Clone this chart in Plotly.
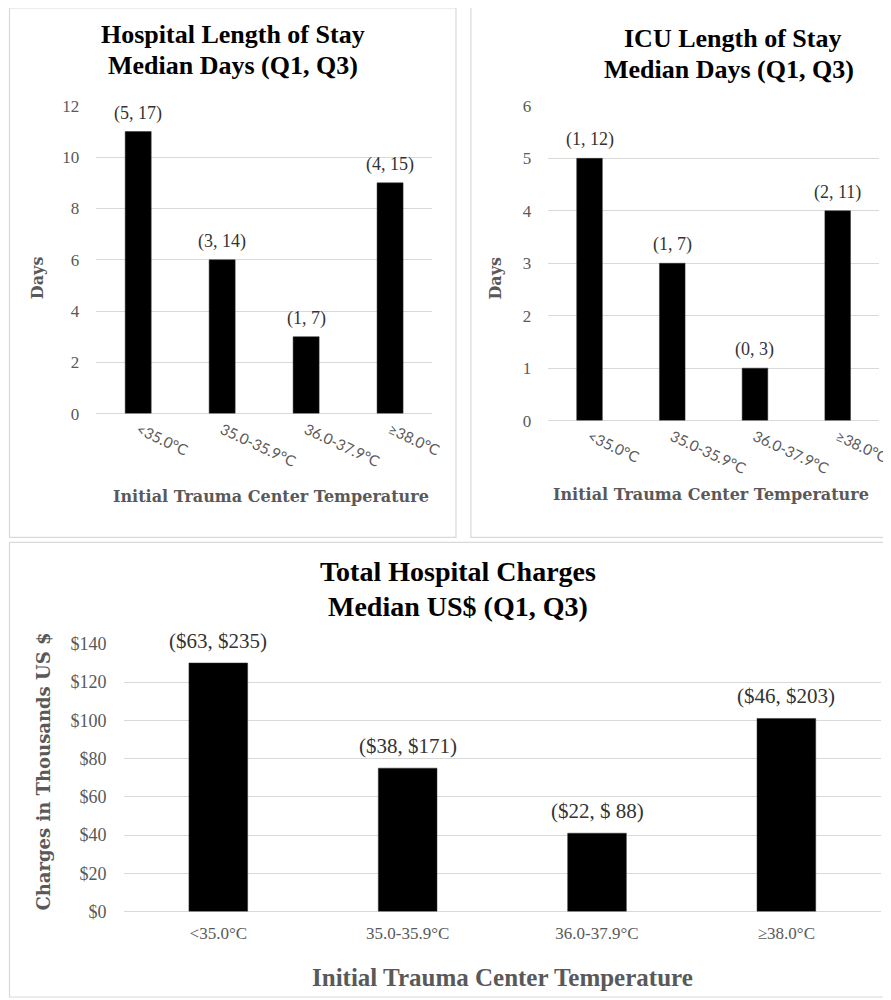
import plotly.graph_objects as go

W, H = 891, 1000

categories = ["<35.0°C", "35.0-35.9°C", "36.0-37.9°C", "≥38.0°C"]

hosp_los = [11, 6, 3, 9]
hosp_iqr = ["(5, 17)", "(3, 14)", "(1, 7)", "(4, 15)"]

icu_los = [5, 3, 1, 4]
icu_iqr = ["(1, 12)", "(1, 7)", "(0, 3)", "(2, 11)"]

charges = [130, 75, 41, 101]
charges_iqr = ["($63, $235)", "($38, $171)", "($22, $ 88)", "($46, $203)"]

SERIF = "Liberation Serif"
WIDE = "DejaVu Serif"
SANS = "Lato"
GRAY = "#595959"
LBL = "#333333"
GRID = "#d9d9d9"

# page-to-screenshot correction (body margin / scaling observed in the render)
SX, OX = 0.991, 7.5
SY, OY = 0.981, 17.0


def fx(px):
    return ((px - OX) / SX) / W


def fy(py):
    return 1 - ((py - OY) / SY) / H


fig = go.Figure()

panels = [
    dict(vals=hosp_los, lab=hosp_iqr, xa="x", ya="y", xd=(96, 433), yd=(413, 105), rng=12, dt=2),
    dict(vals=icu_los, lab=icu_iqr, xa="x2", ya="y2", xd=(549.5, 881.5), yd=(420, 105), rng=6, dt=1),
    dict(vals=charges, lab=charges_iqr, xa="x3", ya="y3", xd=(123.5, 883.5), yd=(911.5, 643.5), rng=140, dt=20),
]

for i, p in enumerate(panels):
    fig.add_trace(go.Bar(
        x=categories, y=p["vals"], xaxis=p["xa"], yaxis=p["ya"],
        marker=dict(color="black", line=dict(color="#333333", width=0.5)),
        width=0.31, showlegend=False, hoverinfo="x+y",
    ))
    for c, v, t in zip(categories, p["vals"], p["lab"]):
        fig.add_annotation(
            x=c, y=v, xref=p["xa"], yref=p["ya"], text=t, showarrow=False,
            yanchor="bottom", yshift=6 if i < 2 else 8,
            font=dict(family=SERIF, size=18 if i < 2 else 21, color=LBL),
        )

layout_axes = {}
for i, p in enumerate(panels):
    k = "" if i == 0 else str(i + 1)
    layout_axes["xaxis" + k] = dict(
        domain=[fx(p["xd"][0]), fx(p["xd"][1])], anchor="y" + k,
        showgrid=False, showline=False, ticks="", zeroline=False,
        tickangle=25 if i < 2 else 0,
        tickfont=dict(family=SANS if i < 2 else SERIF, size=15 if i < 2 else 17, color=GRAY),
        ticklabelstandoff=4 if i < 2 else 9,
    )
    layout_axes["yaxis" + k] = dict(
        domain=[fy(p["yd"][0]), fy(p["yd"][1])], anchor="x" + k,
        range=[0, p["rng"]], dtick=p["dt"], showgrid=True, gridcolor=GRID, gridwidth=1,
        zeroline=True, zerolinecolor=GRID, zerolinewidth=1, showline=False, ticks="",
        tickprefix="$" if i == 2 else "",
        tickfont=dict(family=SERIF, size=17 if i < 2 else 18, color=GRAY),
        ticklabelstandoff=16,
    )

fig.update_layout(
    width=W, height=H, margin=dict(l=0, r=0, t=0, b=0),
    paper_bgcolor="white", plot_bgcolor="white",
    **layout_axes,
)

# Panel borders
for (x0, y0, x1, y1) in [(9, 7, 457, 537), (472, 4, 900, 537), (9, 542, 900, 997)]:
    fig.add_shape(type="rect", xref="paper", yref="paper",
                  x0=fx(x0), x1=fx(x1), y0=fy(y1), y1=fy(y0),
                  line=dict(color=GRID, width=1.2), fillcolor="rgba(0,0,0,0)", layer="below")


def ann(text, x, y, size, family, color, bold=True, angle=0):
    fig.add_annotation(
        x=fx(x), y=fy(y), xref="paper", yref="paper", showarrow=False,
        text=f"<b>{text}</b>" if bold else text, textangle=angle,
        xanchor="center", yanchor="middle",
        font=dict(family=family, size=size, color=color),
    )


# Titles
ann("Hospital Length of Stay", 233, 34, 26, SERIF, "black")
ann("Median Days (Q1, Q3)", 233, 65, 26, SERIF, "black")
ann("ICU Length of Stay", 734, 38, 26, SERIF, "black")
ann("Median Days (Q1, Q3)", 731, 69, 26, SERIF, "black")
ann("Total Hospital Charges", 459, 571, 28, SERIF, "black")
ann("Median US$ (Q1, Q3)", 459, 606, 28, SERIF, "black")

# Axis titles
ann("Days", 37, 277, 16, WIDE, GRAY, angle=-90)
ann("Days", 497, 277, 16, WIDE, GRAY, angle=-90)
ann("Initial Trauma Center Temperature", 271, 496, 16, WIDE, GRAY)
ann("Initial Trauma Center Temperature", 713, 494, 16, WIDE, GRAY)
ann("Charges in Thousands US $", 43, 771, 18, WIDE, GRAY, angle=-90)
ann("Initial Trauma Center Temperature", 504, 977, 25, SERIF, GRAY)

fig.write_html("out.html")
